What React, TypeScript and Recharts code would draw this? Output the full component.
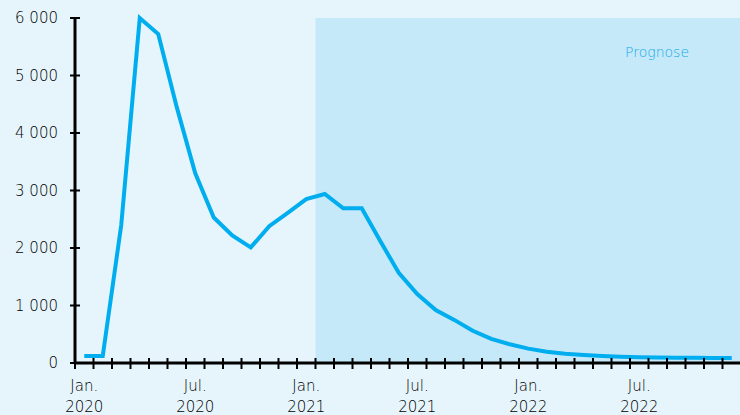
import { ComposedChart, Line, XAxis, YAxis, ReferenceArea } from "recharts"

const monthNames = ["Jan.", "Feb.", "Mär.", "Apr.", "Mai", "Jun.", "Jul.", "Aug.", "Sep.", "Okt.", "Nov.", "Dez."]
const years = [2020, 2021, 2022]

// monthly values, Jan 2020 - Dec 2022
const cases = [
  120, 120, 2400, 6000, 5720, 4450, 3300, 2530, 2220, 2010, 2380, 2610,
  2850, 2940, 2690, 2690, 2120, 1570, 1200, 920, 750, 560, 420, 325,
  250, 197, 160, 138, 120, 108, 100, 95, 92, 90, 88, 87,
]

const yTicks = [0, 1000, 2000, 3000, 4000, 5000, 6000]
const labelMonths = [0, 6, 12, 18, 24, 30]
const forecastStart = 12.5

const data = cases.map((value, i) => ({
  idx: i,
  month: monthNames[i % 12],
  year: years[Math.floor(i / 12)],
  value,
}))

const boundaries = [...data.map((d) => d.idx - 0.5), data.length - 0.5]

const font = "'DejaVu Sans', sans-serif"

const fmt = (v: number) => String(v).replace(/\B(?=(\d{3})+(?!\d))/g, " ")

function BoundaryTick({ x, y }: any) {
  return <line x1={x} x2={x} y1={y - 5} y2={y + 6} stroke="#000" strokeWidth={2} />
}

function MonthTick({ x, y, payload }: any) {
  const d = data[payload.value]
  return (
    <g fontFamily={font} fontSize={15} fontWeight={200} fill="#000">
      <text x={x} y={y + 22}>
        <tspan textAnchor="middle">{d.month}</tspan>
      </text>
      <text x={x} y={y + 43}>
        <tspan textAnchor="middle">{d.year}</tspan>
      </text>
    </g>
  )
}

function ValueTick({ x, y, payload }: any) {
  return (
    <g>
      <line x1={x - 5} x2={x + 5} y1={y} y2={y} stroke="#000" strokeWidth={2} />
      <text
        x={x - 17}
        y={y}
        dy="0.36em"
        textAnchor="end"
        fontFamily={font}
        fontSize={15}
        fontWeight={200}
        fill="#000"
      >
        {fmt(payload.value)}
      </text>
    </g>
  )
}

export default function App() {
  return (
    <div
      style={{
        position: "absolute",
        left: 0,
        top: 0,
        width: 740,
        height: 415,
        overflow: "hidden",
        background: "#E6F5FC",
      }}
    >
      <ComposedChart width={741} height={415} data={data} margin={{ top: 18, right: 0, bottom: 0, left: 0 }}>
        <XAxis
          xAxisId="grid"
          type="number"
          dataKey="idx"
          domain={[-0.5, data.length - 0.5]}
          ticks={boundaries}
          interval={0}
          tick={<BoundaryTick />}
          tickLine={false}
          tickSize={0}
          tickMargin={0}
          axisLine={{ stroke: "#000", strokeWidth: 3 }}
          height={6}
        />
        <XAxis
          xAxisId="labels"
          type="number"
          dataKey="idx"
          domain={[-0.5, data.length - 0.5]}
          ticks={labelMonths}
          interval={0}
          tick={<MonthTick />}
          tickLine={false}
          tickSize={0}
          tickMargin={0}
          axisLine={false}
          height={46}
        />
        <YAxis
          domain={[0, 6000]}
          ticks={yTicks}
          interval={0}
          width={75}
          tick={<ValueTick />}
          tickLine={false}
          tickSize={0}
          tickMargin={0}
          axisLine={{ stroke: "#000", strokeWidth: 3 }}
        />
        <ReferenceArea
          xAxisId="grid"
          x1={forecastStart}
          x2={data.length - 0.5}
          y1={0}
          y2={6000}
          fill="#C5E9F9"
          fillOpacity={1}
          stroke="none"
          label={(props: any) => {
            const vb = props.viewBox
            return (
              <text
                x={vb.x + vb.width - 52}
                y={vb.y + 39}
                textAnchor="end"
                fontFamily={font}
                fontSize={14}
                fontWeight={200}
                fill="#14A9E8"
              >
                Prognose
              </text>
            )
          }}
        />
        <Line
          xAxisId="grid"
          type="linear"
          dataKey="value"
          stroke="#00AEEF"
          strokeWidth={4}
          dot={false}
          activeDot={false}
          isAnimationActive={false}
        />
      </ComposedChart>
    </div>
  )
}
